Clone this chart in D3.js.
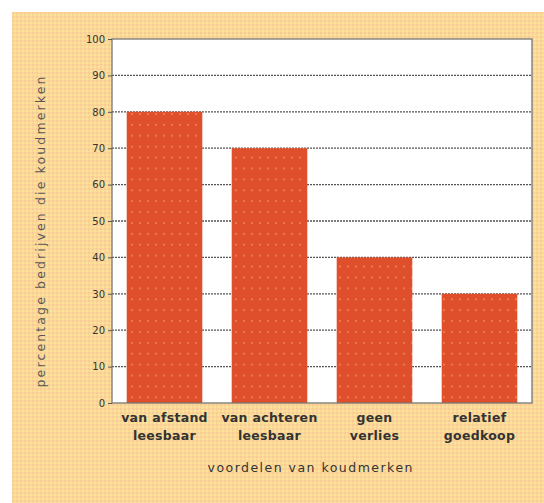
<!DOCTYPE html>
<html><head><meta charset="utf-8">
<script src="https://cdn.jsdelivr.net/npm/d3@7"></script>
<style>html,body{margin:0;padding:0;background:#fff;}svg{display:block;}</style>
</head><body><svg id="c" width="544" height="503"></svg>
<script>
const categories = [["van afstand","leesbaar"],["van achteren","leesbaar"],["geen","verlies"],["relatief","goedkoop"]];
const values = [80, 70, 40, 30];
const yTicks = [0,10,20,30,40,50,60,70,80,90,100];
const xTitle = "voordelen van koudmerken";
const yTitle = "percentage bedrijven die koudmerken";

const svg = d3.select("#c");
const defs = svg.append("defs");
const bg = defs.append("pattern").attr("id","bgp").attr("width",4).attr("height",4).attr("patternUnits","userSpaceOnUse");
bg.append("rect").attr("width",4).attr("height",4).attr("fill","#fbd896");
bg.append("rect").attr("x",0).attr("y",0).attr("width",2).attr("height",2).attr("fill","#f8cc9a");
bg.append("rect").attr("x",2).attr("y",2).attr("width",2).attr("height",2).attr("fill","#fde39a");
const bp = defs.append("pattern").attr("id","barp").attr("width",8).attr("height",10.9).attr("patternUnits","userSpaceOnUse");
bp.append("rect").attr("width",8).attr("height",10.9).attr("fill","#e04f2b");
bp.append("circle").attr("cx",4).attr("cy",5).attr("r",1).attr("fill","#ec8a55");

svg.append("rect").attr("x",12).attr("y",12).attr("width",532).attr("height",491).attr("fill","url(#bgp)");

const m = {l:112, r:532, t:39, b:403};
const x = d3.scaleBand().domain(d3.range(categories.length)).range([m.l, m.r]).paddingInner(0.28).paddingOuter(0.14);
const y = d3.scaleLinear().domain([0,100]).range([m.b, m.t]);

svg.append("rect").attr("x",m.l).attr("y",m.t).attr("width",m.r-m.l).attr("height",m.b-m.t).attr("fill","#fff");

svg.append("g").selectAll("line").data(yTicks.filter(d=>d>0 && d<100)).join("line")
  .attr("x1",m.l).attr("x2",m.r).attr("y1",d=>y(d)).attr("y2",d=>y(d))
  .attr("stroke","#555").attr("stroke-width",1.3).attr("stroke-dasharray","2,1");

svg.append("g").selectAll("rect").data(values).join("rect")
  .attr("x",(d,i)=>x(i)).attr("width",x.bandwidth())
  .attr("y",d=>y(d)).attr("height",d=>y(0)-y(d))
  .attr("fill","url(#barp)");

svg.append("rect").attr("x",m.l).attr("y",m.t).attr("width",m.r-m.l).attr("height",m.b-m.t)
  .attr("fill","none").attr("stroke","#777").attr("stroke-width",1.3);

const ya = d3.axisLeft(y).tickValues(yTicks).tickSize(4).tickPadding(3);
const gy = svg.append("g").attr("transform",`translate(${m.l},0)`).call(ya);
gy.select(".domain").remove();
gy.selectAll("line").attr("stroke","#555");
gy.selectAll("text").attr("font-family","DejaVu Sans, sans-serif").attr("font-size",10).attr("fill","#333");

const gx = svg.append("g");
categories.forEach((c,i)=>{
  const cx = x(i)+x.bandwidth()/2;
  c.forEach((line,j)=>{
    gx.append("text").attr("x",cx).attr("y",422+j*18).attr("text-anchor","middle")
      .attr("font-family","DejaVu Sans, sans-serif").attr("font-size",12.5).attr("font-weight","bold")
      .attr("letter-spacing",0.3).attr("fill","#333").text(line);
  });
});

svg.append("text").attr("x",310).attr("y",472).attr("text-anchor","middle")
  .attr("font-family","DejaVu Sans, sans-serif").attr("font-size",12.5).attr("fill","#333")
  .attr("textLength",205).attr("lengthAdjust","spacing").text(xTitle);
svg.append("text").attr("transform","translate(45,232) rotate(-90)").attr("text-anchor","middle")
  .attr("font-family","DejaVu Sans, sans-serif").attr("font-size",12.5).attr("fill","#555")
  .attr("textLength",311).attr("lengthAdjust","spacing").text(yTitle);
</script></body></html>
